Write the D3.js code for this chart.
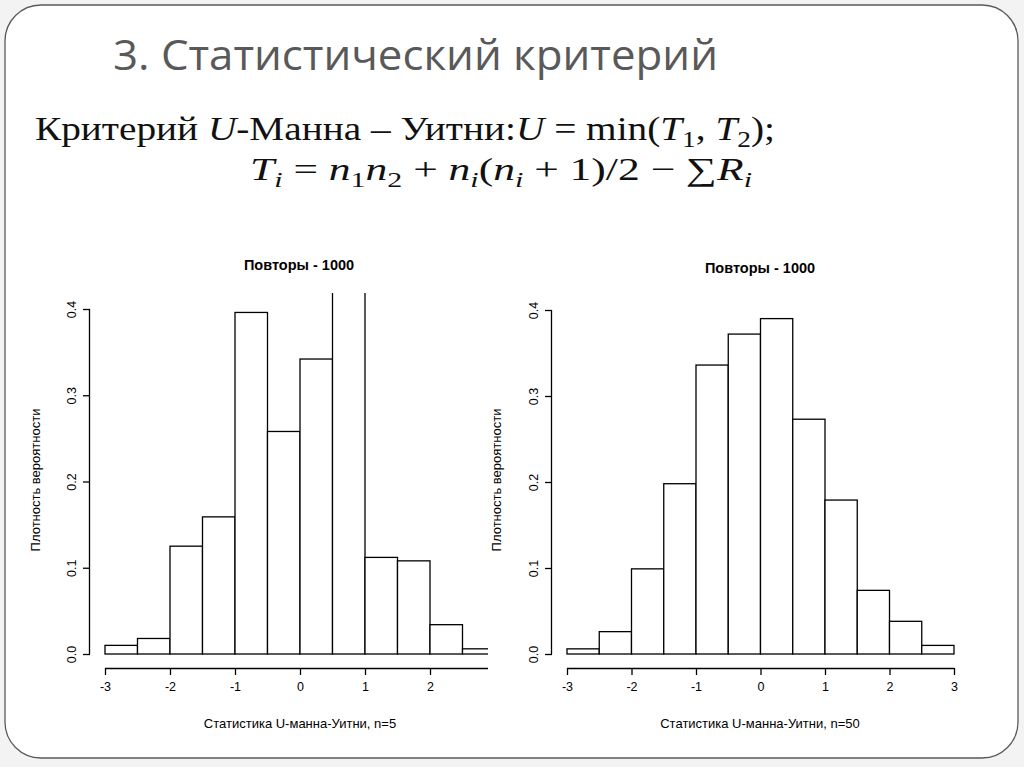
<!DOCTYPE html>
<html>
<head>
<meta charset="utf-8">
<script src="https://cdn.jsdelivr.net/npm/d3@7"></script>
<style>
  body { margin: 0; background: #f3f3f3; }
  svg { display: block; }
</style>
</head>
<body>
<script>
// ---------- data
var breaks = [-3, -2.5, -2, -1.5, -1, -0.5, 0, 0.5, 1, 1.5, 2, 2.5, 3];
var densityN5 = [0.010, 0.018, 0.125, 0.159, 0.396, 0.258, 0.342, 0.432, 0.112, 0.108, 0.034, 0.006];
var densityN50 = [0.006, 0.026, 0.099, 0.198, 0.336, 0.372, 0.390, 0.273, 0.179, 0.074, 0.038, 0.010];
var xTicks = [-3, -2, -1, 0, 1, 2, 3];
var yTicks = [0, 0.1, 0.2, 0.3, 0.4];

var W = 1024, H = 767;
var svg = d3.select("body").append("svg").attr("width", W).attr("height", H);

// slide frame
svg.append("rect")
  .attr("x", 5).attr("y", 5).attr("width", 1013).attr("height", 753)
  .attr("rx", 36).attr("ry", 36)
  .attr("fill", "white").attr("stroke", "#5a5a5a").attr("stroke-width", 1.3);

// slide title
svg.append("text")
  .attr("x", 113).attr("y", 70)
  .attr("textLength", 605).attr("lengthAdjust", "spacingAndGlyphs")
  .style("font-family", "'Open Sans', 'Liberation Sans', sans-serif")
  .style("font-size", "42px")
  .style("fill", "#595959")
  .text("3. Статистический критерий");

// formula, line 1
var f1 = svg.append("text")
  .attr("x", 35).attr("y", 140)
  .attr("textLength", 740).attr("lengthAdjust", "spacingAndGlyphs")
  .style("font-family", "'Liberation Serif', 'DejaVu Serif', serif")
  .style("font-size", "33px").style("fill", "#111");
f1.append("tspan").text("Критерий ");
f1.append("tspan").style("font-style", "italic").text("U");
f1.append("tspan").text("-Манна – Уитни:");
f1.append("tspan").style("font-style", "italic").text("U");
f1.append("tspan").text(" = min(");
f1.append("tspan").style("font-style", "italic").text("T");
f1.append("tspan").attr("dy", 7).style("font-size", "23px").text("1");
f1.append("tspan").attr("dy", -7).text(", ");
f1.append("tspan").style("font-style", "italic").text("T");
f1.append("tspan").attr("dy", 7).style("font-size", "23px").text("2");
f1.append("tspan").attr("dy", -7).text(");");

// formula, line 2
var f2 = svg.append("text")
  .attr("x", 250).attr("y", 180)
  .attr("textLength", 502).attr("lengthAdjust", "spacingAndGlyphs")
  .style("font-family", "'Liberation Serif', 'DejaVu Serif', serif")
  .style("font-size", "32px").style("fill", "#111");
function part(t, italic) {
  var s = f2.append("tspan").text(t);
  if (italic) s.style("font-style", "italic");
  return s;
}
function sub(t, italic) {
  var s = f2.append("tspan").attr("dy", 7).style("font-size", "22px").text(t);
  if (italic) s.style("font-style", "italic");
}
part("T", true); sub("i", true);
part(" = ").attr("dy", -7);
part("n", true); sub("1");
part("n", true).attr("dy", -7); sub("2");
part(" + ").attr("dy", -7);
part("n", true); sub("i", true);
part("(").attr("dy", -7);
part("n", true); sub("i", true);
part(" + 1)/2 − ∑").attr("dy", -7);
part("R", true); sub("i", true);

var rFont = "'Liberation Sans', Arial, sans-serif";

// ---------- one histogram panel
function drawHist(cfg) {
  var g = svg.append("g");
  var xScale = d3.scaleLinear().domain([-3, 3]).range(cfg.xRange);
  var yScale = d3.scaleLinear().domain([0, 0.4]).range(cfg.yRange);

  var clipId = "clip" + cfg.id;
  svg.append("clipPath").attr("id", clipId)
    .append("rect")
    .attr("x", cfg.clip[0]).attr("y", cfg.clip[1])
    .attr("width", cfg.clip[2] - cfg.clip[0]).attr("height", 720 - cfg.clip[1]);

  var bins = cfg.values.map(function (v, i) { return { x0: breaks[i], x1: breaks[i + 1], d: v }; });

  var clipped = g.append("g").attr("clip-path", "url(#" + clipId + ")");

  clipped.append("g")
    .selectAll("rect").data(bins).enter().append("rect")
    .attr("x", d => xScale(d.x0))
    .attr("width", d => xScale(d.x1) - xScale(d.x0))
    .attr("y", d => yScale(d.d))
    .attr("height", d => yScale(0) - yScale(d.d))
    .attr("fill", "white").attr("stroke", "black").attr("stroke-width", 1.3);

  // x axis, R style: detached below the plot
  var xAxis = clipped.append("g")
    .attr("transform", "translate(0," + cfg.xAxisY + ")")
    .call(d3.axisBottom(xScale).tickValues(xTicks).tickSize(7).tickPadding(7)
      .tickFormat(d => String(d)));
  xAxis.select(".domain").attr("d", "M" + xScale(-3) + ",0.5H" + xScale(3));
  xAxis.selectAll("text").style("font-family", rFont).style("font-size", "12.5px");
  xAxis.selectAll("path, line").attr("stroke", "black").attr("stroke-width", 1.3);

  // y axis with rotated tick labels
  var yAxis = g.append("g")
    .attr("transform", "translate(" + cfg.yAxisX + ",0)")
    .call(d3.axisLeft(yScale).tickValues(yTicks).tickSize(7).tickFormat(d => d.toFixed(1)));
  yAxis.select(".domain").attr("d", "M-0.5," + yScale(0) + "V" + yScale(0.4));
  yAxis.selectAll("path, line").attr("stroke", "black").attr("stroke-width", 1.3);
  yAxis.selectAll(".tick text")
    .attr("x", 0).attr("dy", 0)
    .attr("transform", "translate(-14,0) rotate(-90)")
    .attr("text-anchor", "middle")
    .style("font-family", rFont).style("font-size", "12.5px");

  g.append("text")
    .attr("x", cfg.titleX).attr("y", cfg.titleY)
    .attr("text-anchor", "middle")
    .style("font-family", rFont)
    .style("font-size", "14.5px").style("font-weight", "bold")
    .text("Повторы - 1000");

  g.append("text")
    .attr("x", cfg.xLabelX).attr("y", 728)
    .attr("text-anchor", "middle")
    .style("font-family", rFont)
    .style("font-size", "13px")
    .text(cfg.xLabel);

  g.append("text")
    .attr("transform", "translate(" + cfg.yLabelX + "," + 480 + ") rotate(-90)")
    .attr("text-anchor", "middle")
    .style("font-family", rFont)
    .style("font-size", "13px")
    .text("Плотность вероятности");
}

drawHist({
  id: "L", values: densityN5,
  xRange: [105, 495], yRange: [654, 309],
  clip: [0, 293, 488],
  xAxisY: 668, yAxisX: 90,
  titleX: 299, titleY: 270, xLabelX: 300, yLabelX: 40,
  xLabel: "Статистика U-манна-Уитни, n=5"
});

drawHist({
  id: "R", values: densityN50,
  xRange: [567, 954], yRange: [654, 310],
  clip: [0, 250, 1000],
  xAxisY: 668, yAxisX: 552,
  titleX: 760, titleY: 273, xLabelX: 760, yLabelX: 501,
  xLabel: "Статистика U-манна-Уитни, n=50"
});
</script>
</body>
</html>
